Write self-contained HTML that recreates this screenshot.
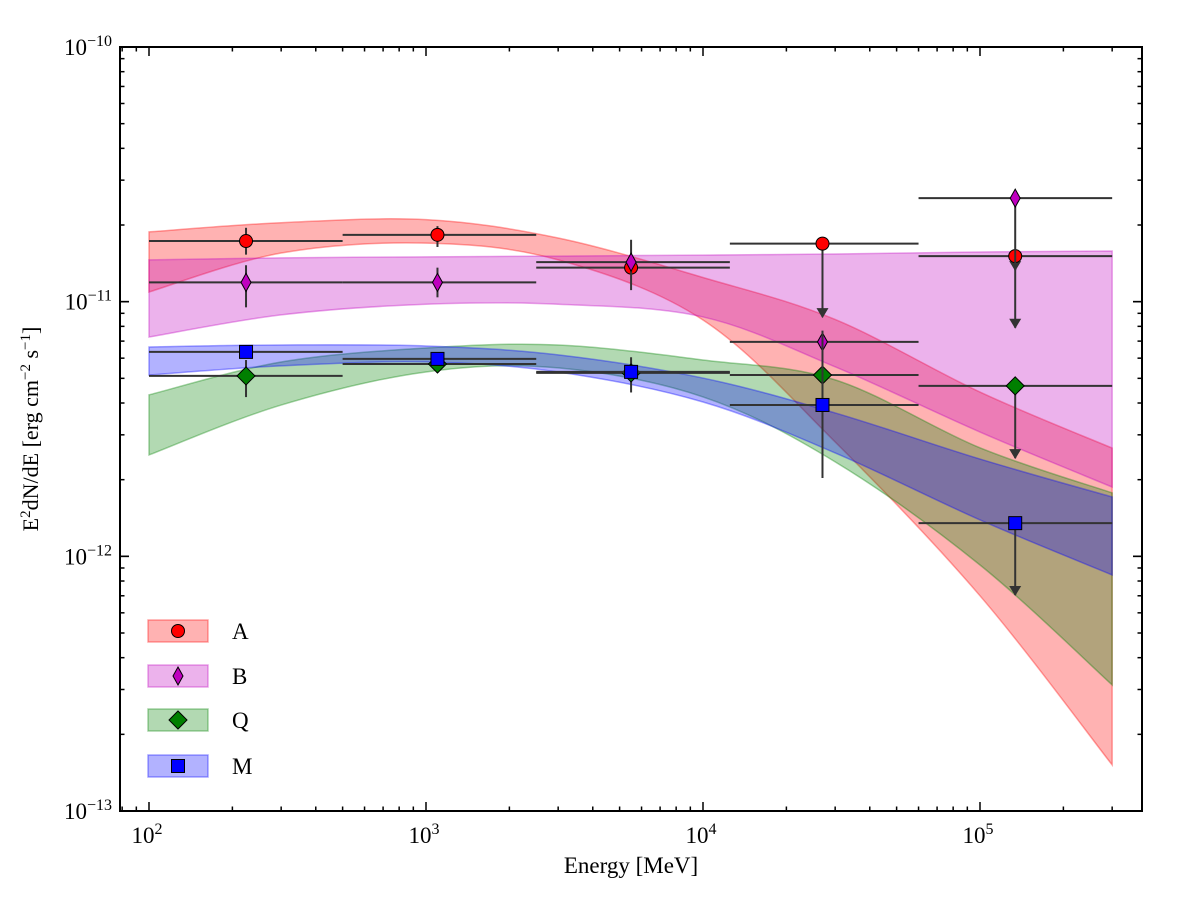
<!DOCTYPE html>
<html><head><meta charset="utf-8">
<style>
html,body{margin:0;padding:0;background:#fff;}
svg{display:block;font-family:"Liberation Serif",serif;}
</style></head>
<body>
<svg id="chart" width="1200" height="904" viewBox="0 0 1200 904">
<rect x="0" y="0" width="1200" height="904" fill="#fff"/>
<g id="bands"></g>
<g id="points"></g>
<g id="axes"></g>
<g id="legend"></g>
</svg>
<script>
// ---- data ----
const bandE = [100, 300, 1000, 3000, 1e4, 3e4, 1e5, 3e5];
const bandAUpperLog = [-10.726, -10.690, -10.678, -10.750, -10.905, -11.070, -11.355, -11.575];
const bandALowerLog = [-10.962, -10.809, -10.770, -10.836, -11.072, -11.551, -12.155, -12.819];
const bandBUpperLog = [-10.836, -10.828, -10.824, -10.821, -10.817, -10.813, -10.805, -10.801];
const bandBLowerLog = [-11.139, -11.052, -11.010, -11.010, -11.060, -11.256, -11.512, -11.728];
const bandQUpperLog = [-11.366, -11.237, -11.182, -11.170, -11.229, -11.307, -11.574, -11.751];
const bandQLowerLog = [-11.602, -11.406, -11.276, -11.260, -11.374, -11.629, -12.034, -12.505];
const bandMUpperLog = [-11.178, -11.170, -11.174, -11.209, -11.300, -11.437, -11.618, -11.767];
const bandMLowerLog = [-11.288, -11.252, -11.237, -11.276, -11.394, -11.594, -11.857, -12.073];

const binEdges = [100, 500, 2500, 12500, 60000, 300000];
const pointE = [224, 1100, 5500, 27000, 134000];

const valA = [1.73e-11, 1.83e-11, 1.36e-11, 1.69e-11, 1.51e-11];
const hiA  = [1.95e-11, 1.98e-11, null, null, null];
const loA  = [1.53e-11, 1.64e-11, null, 8.7e-12, 1.33e-11];
const ulA  = [0, 0, 0, 1, 1];

const valB = [1.19e-11, 1.19e-11, 1.43e-11, 6.95e-12, 2.55e-11];
const hiB  = [1.39e-11, 1.36e-11, 1.75e-11, null, null];
const loB  = [9.5e-12, 1.04e-11, 1.11e-11, null, 7.9e-12];
const ulB  = [0, 0, 0, 0, 1];

const valQ = [5.11e-12, 5.69e-12, 5.25e-12, 5.15e-12, 4.67e-12];
const hiQ  = [5.9e-12, 6.2e-12, 6.05e-12, null, null];
const loQ  = [4.22e-12, 5.25e-12, 4.4e-12, null, 2.43e-12];
const ulQ  = [0, 0, 0, 0, 1];

const valM = [6.35e-12, 5.96e-12, 5.30e-12, 3.93e-12, 1.35e-12];
const hiM  = [null, null, null, 7.7e-12, null];
const loM  = [null, null, null, 2.03e-12, 7.05e-13];
const ulM  = [0, 0, 0, 0, 1];

const xTickExp = [2, 3, 4, 5];
const yTickExp = [-10, -11, -12, -13];
const legendLabels = ['A', 'B', 'Q', 'M'];

// ---- scales ----
const PL = 120, PR = 1142, PT = 47, PB = 811;
const X0 = 149, XPD = 277;
const xMinLog = 2 - (X0 - PL) / XPD, xMaxLog = 2 + (PR - X0) / XPD;
function xs(E){ return X0 + (Math.log10(E) - 2) * XPD; }
function ysLog(l){ return PT + (-10 - l) * (PB - PT) / 3; }
function ys(v){ return ysLog(Math.log10(v)); }

const NS = 'http://www.w3.org/2000/svg';
function mk(tag, attrs, parent){
  const e = document.createElementNS(NS, tag);
  for (const k in attrs) e.setAttribute(k, attrs[k]);
  parent.appendChild(e);
  return e;
}
function spline(pts){
  let d = '';
  for (let i = 0; i < pts.length - 1; i++){
    const p0 = pts[Math.max(i-1,0)], p1 = pts[i], p2 = pts[i+1], p3 = pts[Math.min(i+2, pts.length-1)];
    const c1 = [p1[0] + (p2[0]-p0[0])/6, p1[1] + (p2[1]-p0[1])/6];
    const c2 = [p2[0] - (p3[0]-p1[0])/6, p2[1] - (p3[1]-p1[1])/6];
    d += ` C${c1[0]},${c1[1]} ${c2[0]},${c2[1]} ${p2[0]},${p2[1]}`;
  }
  return d;
}

// ---- bands ----
const bandsG = document.getElementById('bands');
const bandDefs = [
  {n:'A', up:bandAUpperLog, lo:bandALowerLog, c:'#ff0000'},
  {n:'B', up:bandBUpperLog, lo:bandBLowerLog, c:'#bf00bf'},
  {n:'Q', up:bandQUpperLog, lo:bandQLowerLog, c:'#008000'},
  {n:'M', up:bandMUpperLog, lo:bandMLowerLog, c:'#0000ff'}
];
bandDefs.forEach(b => {
  const up = bandE.map((E,i) => [xs(E), ysLog(b.up[i])]);
  const lo = bandE.map((E,i) => [xs(E), ysLog(b.lo[i])]).reverse();
  const d = `M${up[0][0]},${up[0][1]}` + spline(up) + ` L${lo[0][0]},${lo[0][1]}` + spline(lo) + ' Z';
  const p = mk('path', {d:d, fill:b.c, 'fill-opacity':0.3, stroke:b.c, 'stroke-opacity':0.35, 'stroke-width':1.5}, bandsG);
  
  
});

// ---- points ----
const ptsG = document.getElementById('points');
const series = [
  {n:'a', v:valA, hi:hiA, lo:loA, ul:ulA, m:'circle', c:'#ff0000'},
  {n:'b', v:valB, hi:hiB, lo:loB, ul:ulB, m:'thin', c:'#bf00bf'},
  {n:'q', v:valQ, hi:hiQ, lo:loQ, ul:ulQ, m:'diamond', c:'#007f00'},
  {n:'m', v:valM, hi:hiM, lo:loM, ul:ulM, m:'square', c:'#0000ff'}
];
const EC = '#333333';
function drawMarker(m, x, y, c, g){
  if (m === 'circle') return mk('circle', {cx:x, cy:y, r:6.5, fill:c, stroke:'#000', 'stroke-width':1}, g);
  if (m === 'square') return mk('rect', {x:x-6.5, y:y-6.5, width:13, height:13, fill:c, stroke:'#000', 'stroke-width':1}, g);
  if (m === 'diamond') return mk('path', {d:`M${x},${y-9} L${x+9},${y} L${x},${y+9} L${x-9},${y} Z`, fill:c, stroke:'#000', 'stroke-width':1}, g);
  return mk('path', {d:`M${x},${y-9} L${x+5},${y} L${x},${y+9} L${x-5},${y} Z`, fill:c, stroke:'#000', 'stroke-width':1}, g);
}
series.forEach(s => {
  const g = mk('g', {}, ptsG);
  
  
  s.v.forEach((v,i) => {
    const x = xs(pointE[i]), y = ys(v);
    const hb = mk('line', {x1:xs(binEdges[i]), x2:xs(binEdges[i+1]), y1:y, y2:y, stroke:EC, 'stroke-width':2}, g);
    
    
    const top = s.hi[i] != null ? ys(s.hi[i]) : y;
    const bot = s.lo[i] != null ? ys(s.lo[i]) : y;
    if (top !== bot){
      const vb = mk('line', {x1:x, x2:x, y1:top, y2:bot, stroke:EC, 'stroke-width':2}, g);
      
      
    }
    if (s.ul[i]){
      const ar = mk('path', {d:`M${x-6},${bot-9} L${x+6},${bot-9} L${x},${bot+1} Z`, fill:EC}, g);
      
      
    }
  });
  s.v.forEach((v,i) => {
    const x = xs(pointE[i]), y = ys(v);
    const mkEl = drawMarker(s.m, x, y, s.c, g);
    
    
  });
});

// ---- axes ----
const ax = document.getElementById('axes');
const frame = mk('rect', {x:PL, y:PT, width:PR-PL, height:PB-PT, fill:'none', stroke:'#000', 'stroke-width':2}, ax);


for (let dec = 1; dec <= 5; dec++){
  for (let k = 1; k <= 9; k++){
    const l = dec + Math.log10(k);
    if (l < xMinLog || l > xMaxLog) continue;
    const x = X0 + (l - 2) * XPD, len = k === 1 ? 9 : 4.5;
    mk('line', {x1:x, x2:x, y1:PB, y2:PB-len, stroke:'#000', 'stroke-width':1.5}, ax);
    mk('line', {x1:x, x2:x, y1:PT, y2:PT+len, stroke:'#000', 'stroke-width':1.5}, ax);
  }
}
xTickExp.forEach(e => {
  const t = mk('text', {x:xs(Math.pow(10,e)) - 2, y:PB + 32, 'text-anchor':'middle', 'font-size':23, fill:'#000'}, ax);
  
  
  t.innerHTML = `10<tspan dy="-9" font-size="16">${e}</tspan>`;
});
for (let dec = -13; dec <= -11; dec++){
  for (let k = 1; k <= 10; k++){
    const l = dec + Math.log10(k);
    const y = ysLog(l), len = (k === 1 || k === 10) ? 9 : 4.5;
    mk('line', {x1:PL, x2:PL+len, y1:y, y2:y, stroke:'#000', 'stroke-width':1.5}, ax);
    mk('line', {x1:PR, x2:PR-len, y1:y, y2:y, stroke:'#000', 'stroke-width':1.5}, ax);
  }
}
yTickExp.forEach(e => {
  const t = mk('text', {x:PL - 8, y:ysLog(e) + 8, 'text-anchor':'end', 'font-size':23, fill:'#000'}, ax);
  
  
  t.innerHTML = `10<tspan dy="-9" font-size="16">\u2212${-e}</tspan>`;
});
const xt = mk('text', {x:631, y:873, 'text-anchor':'middle', 'font-size':23, fill:'#000'}, ax);


xt.textContent = 'Energy [MeV]';
const yt = mk('text', {x:0, y:0, 'text-anchor':'middle', 'font-size':22, fill:'#000', transform:'translate(38,429) rotate(-90)'}, ax);


yt.innerHTML = 'E<tspan dy="-8" font-size="15">2</tspan><tspan dy="8">dN/dE [erg cm</tspan><tspan dy="-8" font-size="15">\u22122</tspan><tspan dy="8"> s</tspan><tspan dy="-8" font-size="15">\u22121</tspan><tspan dy="8">]</tspan>';

// ---- legend ----
const lg = document.getElementById('legend');
const legY = [631, 676, 720, 766];
legendLabels.forEach((lab, i) => {
  const b = bandDefs[i], s = series[i];
  const g = mk('g', {}, lg);
  
  
  mk('rect', {x:148, y:legY[i]-11, width:60, height:22, fill:b.c, 'fill-opacity':0.3, stroke:b.c, 'stroke-opacity':0.35, 'stroke-width':1.5}, g);
  drawMarker(s.m, 178, legY[i], s.c, g);
  const t = mk('text', {x:232, y:legY[i]+8, 'font-size':23, fill:'#000'}, g);
  t.textContent = lab;
});
</script>
</body></html>
